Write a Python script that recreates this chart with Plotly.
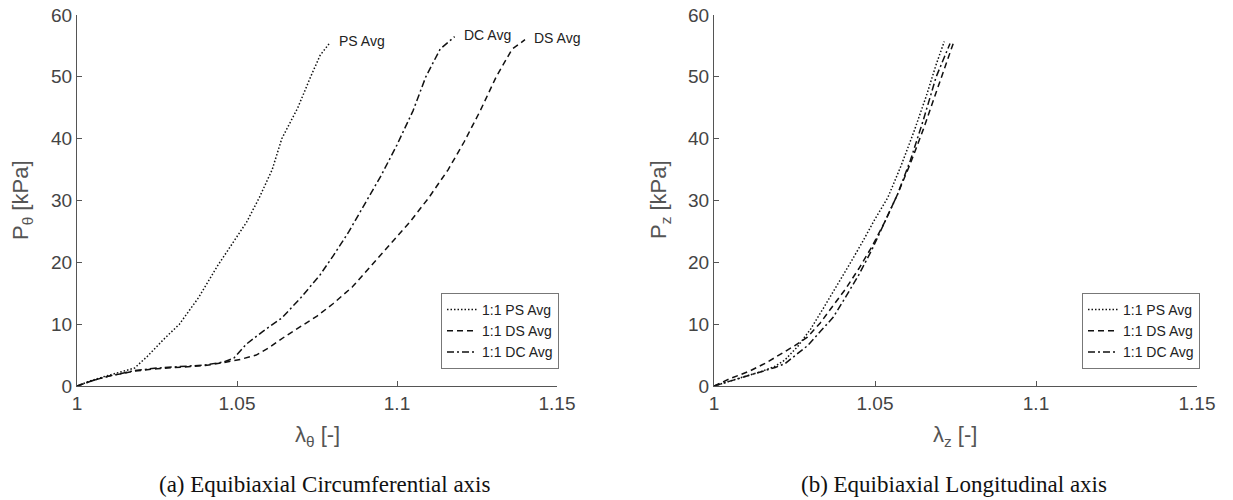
import plotly.graph_objects as go

# ---------------- data ----------------
# (a) circumferential axis
ps_theta_x = [1.000, 1.004, 1.009, 1.014, 1.018, 1.022, 1.027, 1.032, 1.038, 1.044, 1.049, 1.053, 1.057, 1.061, 1.064, 1.069, 1.073, 1.076, 1.079]
ps_theta_y = [0.0, 0.8, 1.6, 2.3, 2.9, 4.8, 7.5, 10.0, 14.3, 19.5, 23.5, 26.5, 30.5, 35.0, 40.0, 45.0, 50.0, 53.5, 55.5]

ds_theta_x = [1.000, 1.005, 1.010, 1.015, 1.018, 1.025, 1.032, 1.040, 1.046, 1.051, 1.056, 1.060, 1.065, 1.070, 1.075, 1.080, 1.086, 1.092, 1.098, 1.104, 1.110, 1.116, 1.121, 1.126, 1.131, 1.136, 1.140]
ds_theta_y = [0.0, 0.9, 1.6, 2.1, 2.4, 2.8, 3.0, 3.3, 3.8, 4.3, 5.0, 6.2, 8.0, 9.6, 11.3, 13.3, 16.0, 19.5, 23.0, 26.5, 30.5, 35.0, 39.5, 44.5, 50.0, 54.5, 56.0]

dc_theta_x = [1.000, 1.005, 1.010, 1.015, 1.018, 1.025, 1.032, 1.040, 1.046, 1.049, 1.053, 1.058, 1.064, 1.070, 1.076, 1.080, 1.085, 1.090, 1.095, 1.100, 1.105, 1.109, 1.1135, 1.118]
dc_theta_y = [0.0, 0.9, 1.6, 2.2, 2.5, 2.9, 3.1, 3.4, 3.9, 4.5, 6.8, 8.8, 11.0, 14.3, 18.0, 21.0, 25.0, 29.5, 34.0, 39.0, 44.5, 50.0, 54.5, 56.5]

# (b) longitudinal axis
ps_z_x = [1.000, 1.005, 1.010, 1.015, 1.019, 1.022, 1.026, 1.030, 1.034, 1.038, 1.042, 1.046, 1.050, 1.054, 1.058, 1.062, 1.066, 1.069, 1.0715]
ps_z_y = [0.0, 0.8, 1.6, 2.4, 3.2, 4.2, 6.4, 9.2, 12.6, 16.0, 19.6, 23.2, 27.0, 30.5, 35.5, 41.0, 47.0, 52.0, 55.7]

ds_z_x = [1.000, 1.005, 1.011, 1.016, 1.0215, 1.025, 1.029, 1.033, 1.037, 1.041, 1.045, 1.049, 1.053, 1.057, 1.061, 1.065, 1.069, 1.072, 1.0745]
ds_z_y = [0.0, 1.2, 2.4, 3.7, 5.4, 6.5, 7.9, 10.2, 13.0, 15.8, 19.0, 22.5, 26.5, 31.0, 36.0, 41.5, 47.5, 52.0, 55.7]

dc_z_x = [1.000, 1.005, 1.010, 1.015, 1.019, 1.022, 1.026, 1.029, 1.033, 1.037, 1.041, 1.045, 1.049, 1.053, 1.057, 1.061, 1.065, 1.069, 1.0733]
dc_z_y = [0.0, 0.8, 1.6, 2.3, 3.0, 3.6, 5.2, 6.5, 8.8, 11.1, 14.5, 18.0, 22.0, 26.5, 31.0, 36.5, 43.0, 50.0, 55.4]

legend_names = ["1:1 PS Avg", "1:1 DS Avg", "1:1 DC Avg"]
end_labels = ["PS Avg", "DS Avg", "DC Avg"]
x_ticks = [1, 1.05, 1.1, 1.15]
x_tick_text = ["1", "1.05", "1.1", "1.15"]
y_ticks = [0, 10, 20, 30, 40, 50, 60]
x_titles = ["λ<sub>θ</sub> [-]", "λ<sub>z</sub> [-]"]
y_titles = ["P<sub>θ</sub> [kPa]", "P<sub>z</sub> [kPa]"]
captions = ["(a) Equibiaxial Circumferential axis", "(b) Equibiaxial Longitudinal axis"]

# ---------------- figure ----------------
W, H = 1233, 500
LINE = "#111111"
dashes = ["1.5px,2px", "6px,4px", "7px,3px,2px,3px"]
SANS = "Liberation Sans, Arial, sans-serif"
SERIF = "Liberation Serif, Times New Roman, serif"

fig = go.Figure()

left = [(ps_theta_x, ps_theta_y), (ds_theta_x, ds_theta_y), (dc_theta_x, dc_theta_y)]
right = [(ps_z_x, ps_z_y), (ds_z_x, ds_z_y), (dc_z_x, dc_z_y)]

for i, (xs, ys) in enumerate(left):
    fig.add_trace(go.Scatter(x=xs, y=ys, mode="lines", name=legend_names[i],
                             line=dict(color=LINE, width=1.5, dash=dashes[i]),
                             xaxis="x", yaxis="y", legend="legend"))
for i, (xs, ys) in enumerate(right):
    fig.add_trace(go.Scatter(x=xs, y=ys, mode="lines", name=legend_names[i],
                             line=dict(color=LINE, width=1.5, dash=dashes[i]),
                             xaxis="x2", yaxis="y2", legend="legend2"))

# curve-end labels on panel (a)
for i, (xs, ys) in enumerate(left):
    fig.add_annotation(x=xs[-1], y=ys[-1], xref="x", yref="y", text=end_labels[i],
                       showarrow=False, xanchor="left", yanchor="middle",
                       xshift=7, yshift=2,
                       font=dict(family=SANS, size=14, color="#222"))

axis_common = dict(showline=True, linecolor="#555", linewidth=1, ticks="inside",
                   ticklen=5, tickcolor="#555", showgrid=False, zeroline=False,
                   mirror=False, automargin=False,
                   tickfont=dict(family=SANS, size=19, color="#444"))

# pixel geometry of the two plot areas
x_dom = [[77 / W, 557 / W], [714 / W, 1197 / W]]
y_dom = [(H - 386) / H, (H - 15) / H]

fig.update_layout(
    width=W, height=H,
    margin=dict(l=0, r=0, t=0, b=0),
    paper_bgcolor="white", plot_bgcolor="white",
    xaxis=dict(domain=x_dom[0], range=[1, 1.15], tickvals=x_ticks, ticktext=x_tick_text,
               anchor="y", **axis_common),
    yaxis=dict(domain=y_dom, range=[0, 60], tickvals=y_ticks, anchor="x", **axis_common),
    xaxis2=dict(domain=x_dom[1], range=[1, 1.15], tickvals=x_ticks, ticktext=x_tick_text,
                anchor="y2", **axis_common),
    yaxis2=dict(domain=y_dom, range=[0, 60], tickvals=y_ticks, anchor="x2", **axis_common),
    legend=dict(x=500 / W, y=(H - 331) / H, xanchor="center", yanchor="middle",
                bgcolor="white", bordercolor="#777", borderwidth=1,
                itemwidth=30, tracegroupgap=0,
                font=dict(family=SANS, size=14, color="#222")),
    legend2=dict(x=1141 / W, y=(H - 331) / H, xanchor="center", yanchor="middle",
                 bgcolor="white", bordercolor="#777", borderwidth=1,
                 itemwidth=30, tracegroupgap=0,
                 font=dict(family=SANS, size=14, color="#222")),
    showlegend=True,
)

# axis titles
x_title_cx = [317, 955]
y_title_cx = [22, 660]
for k in range(2):
    fig.add_annotation(x=x_title_cx[k] / W, y=(H - 436) / H, xref="paper", yref="paper",
                       text=x_titles[k], showarrow=False, xanchor="center", yanchor="middle",
                       font=dict(family=SANS, size=22, color="#555"))
    fig.add_annotation(x=y_title_cx[k] / W, y=(H - 200) / H, xref="paper", yref="paper",
                       text=y_titles[k], showarrow=False, textangle=-90,
                       xanchor="center", yanchor="middle",
                       font=dict(family=SANS, size=22, color="#555"))

# captions
cap_cx = [325, 954]
for cx, txt in zip(cap_cx, captions):
    fig.add_annotation(x=cx / W, y=(H - 484) / H, xref="paper", yref="paper", text=txt,
                       showarrow=False, xanchor="center", yanchor="middle",
                       font=dict(family=SERIF, size=23, color="#111"))

fig.write_html("out.html")
